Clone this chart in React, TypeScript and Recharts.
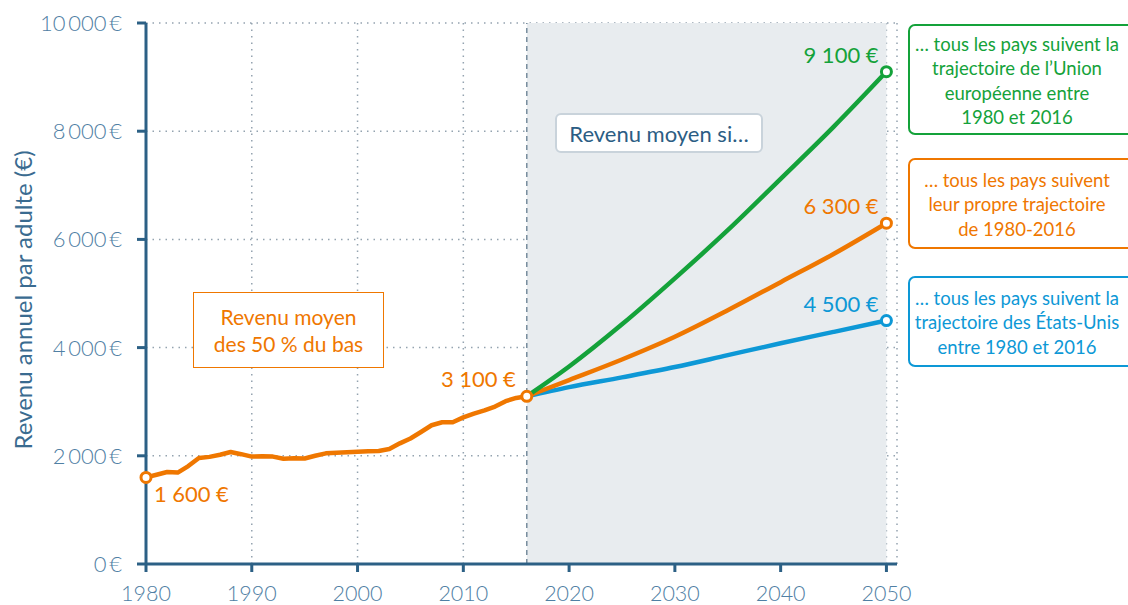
import React from "react";
import {
  CartesianGrid,
  Line,
  LineChart,
  ReferenceArea,
  ReferenceLine,
  XAxis,
  YAxis,
} from "recharts";

// historical series (bottom 50%), 1980-2016
const histYears = [
  1980, 1981, 1982, 1983, 1984, 1985, 1986, 1987, 1988, 1989, 1990, 1991, 1992,
  1993, 1994, 1995, 1996, 1997, 1998, 1999, 2000, 2001, 2002, 2003, 2004, 2005,
  2006, 2007, 2008, 2009, 2010, 2011, 2012, 2013, 2014, 2015, 2016,
];
const histValues = [
  1600, 1650, 1700, 1690, 1810, 1960, 1980, 2020, 2070, 2030, 1985, 1990, 1985,
  1945, 1955, 1950, 2000, 2045, 2055, 2065, 2075, 2085, 2090, 2125, 2230, 2320,
  2440, 2565, 2620, 2620, 2710, 2780, 2840, 2910, 3010, 3070, 3100,
];

// projections 2016-2050
const projYears = [2016, 2020, 2025, 2030, 2035, 2040, 2045, 2050];
const euPath = [3100, 3650, 4430, 5280, 6170, 7120, 8080, 9100];
const ownPath = [3100, 3400, 3780, 4200, 4690, 5210, 5730, 6300];
const usPath = [3100, 3270, 3450, 3640, 3860, 4080, 4290, 4500];

const xTicks = [1980, 1990, 2000, 2010, 2020, 2030, 2040, 2050];
const yTicks = [0, 2000, 4000, 6000, 8000, 10000];

const ORANGE = "#ef7700";
const GREEN = "#14a23a";
const BLUE = "#0d98d6";
const AXIS = "#2c6085";
const TICK = "#5080a4";
const FONT = "Lato, 'Open Sans', sans-serif";

const W = 1128;
const H = 605;

function buildRows() {
  const years = Array.from(new Set([...histYears, ...projYears])).sort((a, b) => a - b);
  return years.map((year) => {
    const row: Record<string, number> = { year };
    const hi = histYears.indexOf(year);
    if (hi >= 0) row.hist = histValues[hi];
    const pi = projYears.indexOf(year);
    if (pi >= 0) {
      row.eu = euPath[pi];
      row.own = ownPath[pi];
      row.us = usPath[pi];
    }
    return row;
  });
}

const rows = buildRows();

function euro(v: number) {
  if (v >= 1000) {
    const th = Math.floor(v / 1000);
    const rest = String(Math.round(v % 1000)).padStart(3, "0");
    return `${th}\u2009${rest}\u2009€`;
  }
  return `${v}\u2009€`;
}

function valueLabel(v: number) {
  const r = Math.round(v / 100) * 100;
  const th = Math.floor(r / 1000);
  const rest = String(r % 1000).padStart(3, "0");
  return `${th}\u202F${rest}\u202F€`;
}

type Mark = { year: number; dx: number; dy: number; anchor: "start" | "end" };

function makeDot(color: string, marks: Mark[]) {
  return (props: any) => {
    const { cx, cy, payload, value, index } = props;
    const mark = marks.find((m) => m.year === payload?.year);
    if (!mark || cx == null || cy == null || value == null) {
      return <g key={`d-${index}`} />;
    }
    const v = Array.isArray(value) ? value[1] : value;
    return (
      <g key={`d-${index}`}>
        <circle cx={cx} cy={cy} r={5} fill="#fff" stroke={color} strokeWidth={3} />
        <text
          x={cx + mark.dx}
          y={cy + mark.dy}
          textAnchor={mark.anchor}
          fill={color}
          fontFamily={FONT}
          fontSize={22}
        >
          {valueLabel(v)}
        </text>
      </g>
    );
  };
}

function XTick({ x, y, payload }: any) {
  return (
    <text x={x} y={y + 27} textAnchor="middle" fill={TICK} fontFamily={FONT} fontWeight={300} fontSize={21.5}>
      {payload.value}
    </text>
  );
}

function YTick({ x, y, payload }: any) {
  return (
    <text x={x - 13} y={y + 8} textAnchor="end" fill={TICK} fontFamily={FONT} fontWeight={300} fontSize={22}>
      {euro(payload.value)}
    </text>
  );
}

const boxText: React.CSSProperties = {
  position: "absolute",
  boxSizing: "border-box",
  display: "flex",
  alignItems: "center",
  justifyContent: "center",
  textAlign: "center",
  fontFamily: FONT,
  background: "#fff",
};

export default function App() {
  return (
    <div style={{ position: "absolute", left: 0, top: 0, width: W, height: H, overflow: "hidden", background: "#fff" }}>
      <LineChart width={W} height={H} data={rows} margin={{ top: 23, right: 231, bottom: 0, left: 0 }}>
        <ReferenceArea x1={2016} x2={2050} y1={0} y2={10000} fill="#e8ecef" fillOpacity={1} stroke="none" />
        <CartesianGrid stroke="#94a3b0" strokeDasharray="1.5 5" strokeWidth={1.5} />
        <ReferenceLine x={2016} stroke="#6f8597" strokeDasharray="5 4" strokeWidth={1.4} />
        <XAxis
          dataKey="year"
          type="number"
          domain={[1980, 2051]}
          ticks={xTicks}
          height={41}
          axisLine={{ stroke: AXIS, strokeWidth: 3 }}
          tickLine={{ stroke: AXIS, strokeWidth: 3 }}
          tickSize={8}
          tick={<XTick />}
          interval={0}
        />
        <YAxis
          type="number"
          domain={[0, 10000]}
          ticks={yTicks}
          width={146}
          axisLine={{ stroke: AXIS, strokeWidth: 3 }}
          tickLine={{ stroke: AXIS, strokeWidth: 3 }}
          tickSize={9}
          tick={<YTick />}
          interval={0}
        />
        <Line
          dataKey="us"
          type="monotone"
          stroke={BLUE}
          strokeWidth={4.5}
          dot={makeDot(BLUE, [{ year: 2050, dx: -8, dy: -9, anchor: "end" }])}
          activeDot={false}
          isAnimationActive={false}
        />
        <Line
          dataKey="own"
          type="monotone"
          stroke={ORANGE}
          strokeWidth={4.5}
          dot={makeDot(ORANGE, [{ year: 2050, dx: -8, dy: -9, anchor: "end" }])}
          activeDot={false}
          isAnimationActive={false}
        />
        <Line
          dataKey="eu"
          type="monotone"
          stroke={GREEN}
          strokeWidth={4.5}
          dot={makeDot(GREEN, [{ year: 2050, dx: -8, dy: -9, anchor: "end" }])}
          activeDot={false}
          isAnimationActive={false}
        />
        <Line
          dataKey="hist"
          type="linear"
          stroke={ORANGE}
          strokeWidth={4.5}
          strokeLinejoin="round"
          dot={makeDot(ORANGE, [
            { year: 1980, dx: 8, dy: 25, anchor: "start" },
            { year: 2016, dx: -11, dy: -9, anchor: "end" },
          ])}
          activeDot={false}
          isAnimationActive={false}
        />
      </LineChart>

      {/* axis title */}
      <div
        style={{
          position: "absolute",
          left: 22,
          top: 300,
          transform: "translate(-50%, -50%) rotate(-90deg)",
          whiteSpace: "nowrap",
          fontFamily: FONT,
          fontSize: 24,
          color: "#3a6b90",
        }}
      >
        Revenu annuel par adulte (€)
      </div>

      {/* annotation boxes */}
      <div
        style={{
          ...boxText,
          left: 555,
          top: 113,
          width: 208,
          height: 40,
          border: "2px solid #c9d3db",
          borderRadius: 6,
          color: "#2b5d84",
          fontSize: 22,
        }}
      >
        Revenu moyen si…
      </div>
      <div
        style={{
          ...boxText,
          left: 193,
          top: 292,
          width: 191,
          height: 76,
          border: `1.5px solid ${ORANGE}`,
          color: ORANGE,
          fontSize: 21,
          lineHeight: "27px",
        }}
      >
        Revenu moyen
        <br />
        des 50 % du bas
      </div>
      <div
        style={{
          ...boxText,
          left: 908,
          top: 24,
          width: 226,
          height: 111,
          border: `2.5px solid ${GREEN}`,
          borderRadius: 7,
          color: GREEN,
          fontSize: 18.5,
          lineHeight: "24.5px",
          paddingRight: 8,
          paddingTop: 2,
        }}
      >
        … tous les pays suivent la
        <br />
        trajectoire de l’Union
        <br />
        européenne entre
        <br />
        1980 et 2016
      </div>
      <div
        style={{
          ...boxText,
          left: 908,
          top: 158,
          width: 226,
          height: 91,
          border: `2.5px solid ${ORANGE}`,
          borderRadius: 7,
          color: ORANGE,
          fontSize: 18.5,
          lineHeight: "24.5px",
          paddingRight: 8,
          paddingTop: 2,
        }}
      >
        … tous les pays suivent
        <br />
        leur propre trajectoire
        <br />
        de 1980-2016
      </div>
      <div
        style={{
          ...boxText,
          left: 908,
          top: 276,
          width: 226,
          height: 91,
          border: `2.5px solid ${BLUE}`,
          borderRadius: 7,
          color: BLUE,
          fontSize: 18.5,
          lineHeight: "24.5px",
          paddingRight: 8,
          paddingTop: 2,
        }}
      >
        … tous les pays suivent la
        <br />
        trajectoire des États-Unis
        <br />
        entre 1980 et 2016
      </div>
    </div>
  );
}
